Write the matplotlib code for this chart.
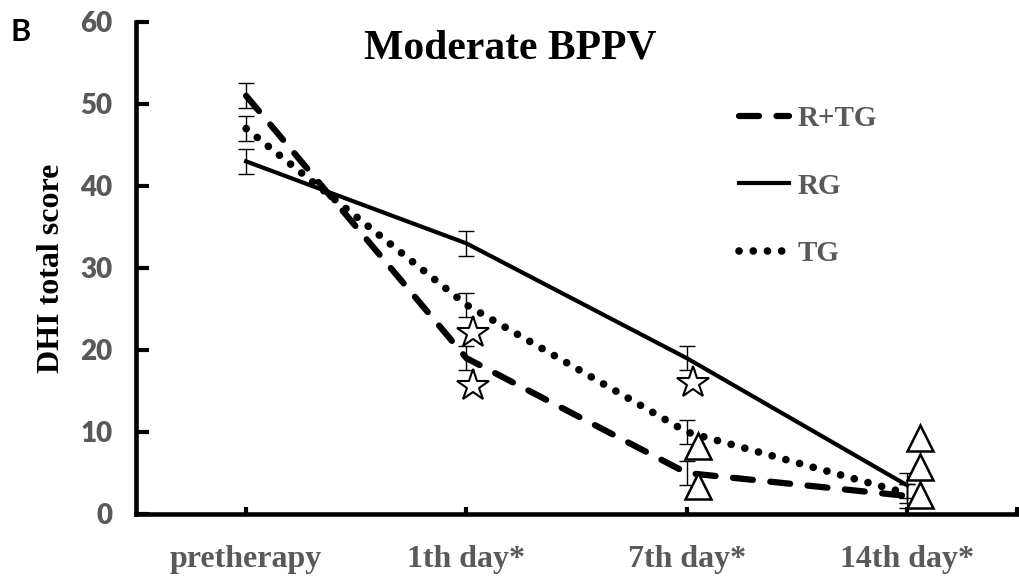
import numpy as np
import matplotlib
matplotlib.use("Agg")
import matplotlib.pyplot as plt

# categories and group means (DHI total score)
days = ["pretherapy", "1th day*", "7th day*", "14th day*"]
rtg = [51.0, 19.0, 5.0, 2.2]
rg = [43.0, 33.0, 19.0, 3.5]
tg = [47.0, 25.5, 10.0, 2.5]
rtg_err = [1.5, 1.5, 1.5, 1.5]
rg_err = [1.5, 1.5, 1.5, 1.5]
tg_err = [1.5, 1.5, 1.5, 1.2]

# significance markers
star_x = [1.03, 1.03, 2.03]
star_y = [22.1, 15.6, 16.0]
tri_x = [2.05, 2.05, 3.06, 3.06, 3.06]
tri_y = [8.3, 3.4, 9.3, 5.7, 2.3]

gray = "#595959"
serif = "Liberation Serif"

fig = plt.figure(figsize=(10.2, 5.86), dpi=100)
ax = fig.add_axes([0.1333, 0.1229, 0.864, 0.8396])

x = np.arange(len(days))

ax.plot(x, rtg, color="k", lw=4.5, linestyle=(0, (3.2, 2.8)),
        dash_capstyle="round", label="R+TG")
ax.plot(x, rg, color="k", lw=3, linestyle="-", label="RG")
ax.plot(x, tg, color="k", lw=5.5, linestyle=(0, (0.01, 1.85)),
        dash_capstyle="round", label="TG")

for vals, err in [(rtg, rtg_err), (rg, rg_err), (tg, tg_err)]:
    ax.errorbar(x, vals, yerr=err, fmt="none", ecolor="k", elinewidth=1,
                capsize=5.5, capthick=1)

ax.plot(star_x, star_y, linestyle="none", marker="*", markersize=24,
        markerfacecolor="white", markeredgecolor="k", markeredgewidth=1.5)
ax.plot(tri_x, tri_y, linestyle="none", marker="^", markersize=19,
        markerfacecolor="white", markeredgecolor="k", markeredgewidth=1.8)

ax.set_xlim(-0.5, 3.5)
ax.set_ylim(0, 60)

for side in ["top", "right"]:
    ax.spines[side].set_visible(False)
for side in ["left", "bottom"]:
    ax.spines[side].set_linewidth(3.3)

ax.set_yticks(np.arange(0, 61, 10))
ax.tick_params(axis="y", direction="in", length=9, width=3, pad=17,
               labelsize=20, labelcolor=gray)
for lbl in ax.get_yticklabels():
    lbl.set_fontfamily("Lato")
    lbl.set_fontweight("heavy")

ax.set_xticks(list(x) + [3.5])
ax.set_xticklabels(days + [""])
ax.tick_params(axis="x", direction="in", length=5, width=3, pad=22,
               labelsize=23, labelcolor=gray)
for lbl in ax.get_xticklabels():
    lbl.set_fontfamily(serif)
    lbl.set_fontweight("bold")

ax.set_ylabel("DHI total score", fontsize=23, fontweight="bold",
              fontfamily=serif, labelpad=10)

fig.text(0.5, 0.918, "Moderate BPPV", fontsize=30, fontweight="bold",
         fontfamily=serif, ha="center", va="center")
fig.text(0.02, 0.945, "B", fontsize=22, fontweight="bold", fontfamily="Lato",
         ha="center", va="center")

leg = ax.legend(loc="upper left", bbox_to_anchor=(0.655, 0.885), frameon=False,
                handlelength=1.7, handletextpad=0.3, labelspacing=1.4,
                prop={"family": serif, "weight": "bold", "size": 21})
for t in leg.get_texts():
    t.set_color(gray)

fig.savefig("out.png", dpi=100)
